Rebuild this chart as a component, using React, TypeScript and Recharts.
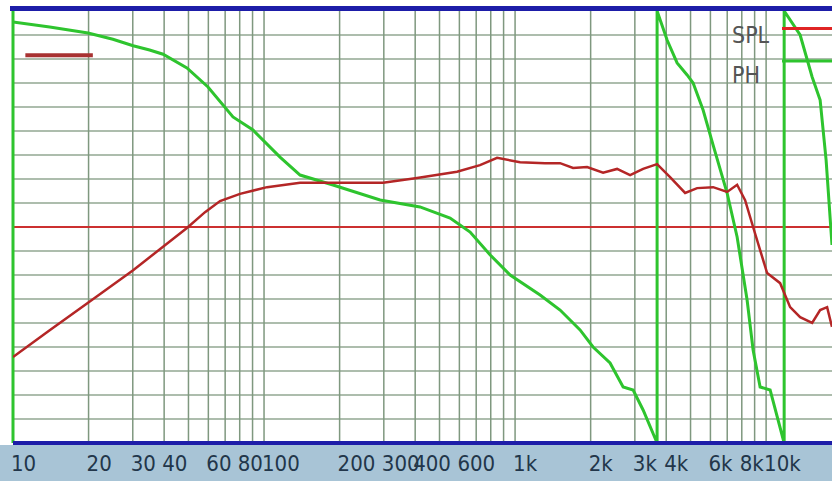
import React from "react";
import { ComposedChart, Line, XAxis, YAxis, ReferenceLine, Legend } from "recharts";

// SPL curve, relative dB (5 dB per grid division, 0 dB = red centre line)
const splFreq = [10, 14, 19.9, 30.1, 40.3, 49.3, 58.2, 66.8, 80.2, 102.8, 139.2, 188.3, 298, 407, 587, 725, 848, 1047, 1317, 1511, 1702, 1936, 2242, 2549, 2872, 3236, 3679, 4144, 4757, 5311, 6151, 6992, 7665, 8248, 8875, 9465, 10092, 11372, 12464, 13662, 15253, 16414, 17500, 18300];
const splDb = [-27.1, -21.5, -15.8, -9.0, -3.8, -0.2, 3.1, 5.4, 6.9, 8.3, 9.2, 9.2, 9.2, 10.2, 11.5, 12.9, 14.4, 13.5, 13.3, 13.3, 12.3, 12.5, 11.3, 12.1, 10.8, 12.1, 13.1, 10.4, 7.1, 8.1, 8.3, 7.3, 8.8, 5.6, 0, -4.8, -9.6, -11.7, -16.7, -18.8, -20, -17.3, -16.7, -20.8];

// phase in degrees, wrapped at +-180
const phFreq = [10, 14, 19.9, 25, 30.1, 35, 39.6, 49.3, 59.8, 75.2, 90.4, 115.8, 139.2, 188.3, 290, 418, 551, 662, 796, 956, 1258, 1511, 1815, 2045, 2390, 2694, 2953, 3236, 3679, 3679, 4033, 4420, 4845, 5120, 5610, 6151, 6992, 7665, 8400, 8875, 9465, 10374, 11800, 11800, 13662, 15253, 16414, 17338, 18300];
const phDeg = [170.8, 166.7, 161.7, 156.5, 151, 147.5, 144, 132.5, 116.7, 91.7, 80.8, 58.3, 43.3, 35, 22.5, 16.7, 7.5, -4.2, -23.3, -40, -56.7, -69.2, -85.8, -100, -113.3, -133.3, -135.8, -152.5, -180, 180, 155.8, 136.7, 126.7, 120, 97.5, 68.3, 28.3, -8.3, -60.8, -102.5, -133.3, -135.8, -180, 180, 160, 125, 105.8, 55.8, -15];

const tickFreqs = [10, 20, 30, 40, 60, 80, 100, 200, 300, 400, 600, 1000, 2000, 3000, 4000, 6000, 8000, 10000];
const tickLabels = ["10", "20", "30", "40", "60", "80", "100", "200", "300", "400", "600", "1k", "2k", "3k", "4k", "6k", "8k", "10k"];

const gridFreqs: number[] = [];
[10, 100, 1000].forEach((d) => {
  for (let m = 1; m <= 9; m++) if (d * m > 10) gridFreqs.push(d * m);
});
gridFreqs.push(10000);

const phGrid = [-160, -140, -120, -100, -80, -60, -40, -20, 0, 20, 40, 60, 80, 100, 120, 140, 160];

const legendItems = [
  { name: "SPL", color: "#e02424", y: 28.5, textY: 43 },
  { name: "PH", color: "#2ec42e", y: 61, textY: 83 },
];

const splData = splFreq.map((f, i) => ({ f, v: splDb[i] }));
const phData = phFreq.map((f, i) => ({ f, v: phDeg[i] }));

const FONT = "'Liberation Sans Narrow', 'DejaVu Sans Condensed', 'Arial Narrow', sans-serif";

const FreqTick = (props: any) => {
  const { x, y, payload } = props;
  const label = tickLabels[tickFreqs.indexOf(payload.value)];
  return (
    <text x={x - 2} y={y + 26} textAnchor="start" fontFamily={FONT} fontSize={22} fill="#22364a">
      {label}
    </text>
  );
};

const LegendBox = () => (
  <svg width={132} height={100}>
    {legendItems.map((it) => (
      <g key={it.name}>
        <text x={32} y={it.textY} fontFamily={FONT} fontSize={23} fill="#555">
          {it.name}
        </text>
        <line x1={82} x2={132} y1={it.y} y2={it.y} stroke={it.color} strokeWidth={3} />
      </g>
    ))}
  </svg>
);

export default function App() {
  return (
    <div style={{ position: "absolute", left: 0, top: 0, width: 832, height: 481, background: "#fff", overflow: "hidden" }}>
      <div style={{ position: "absolute", left: 0, top: 445, width: 832, height: 36, background: "#a8c4d6" }} />
      <ComposedChart
        width={832}
        height={481}
        margin={{ top: 11, right: 0, bottom: 0, left: 13 }}
        style={{ position: "absolute", left: 0, top: 0 }}
      >
        <XAxis
          dataKey="f"
          type="number"
          scale="log"
          domain={[10, 18300]}
          allowDataOverflow
          ticks={tickFreqs}
          interval={0}
          height={38}
          tickLine={false}
          tickSize={0}
          axisLine={{ stroke: "#1d1da8", strokeWidth: 4 }}
          tick={<FreqTick />}
        />
        <YAxis yAxisId="ph" hide type="number" domain={[-180, 180]} />
        <YAxis yAxisId="spl" hide type="number" domain={[-45, 45]} />

        {phGrid.map((v) => (
          <ReferenceLine key={"h" + v} yAxisId="ph" y={v} stroke="#adbdad" strokeWidth={2} />
        ))}
        {gridFreqs.map((f) => (
          <ReferenceLine key={"v" + f} yAxisId="ph" x={f} stroke="#7f987f" strokeWidth={1.5} />
        ))}
        <ReferenceLine yAxisId="spl" y={0} stroke="#cc3030" strokeWidth={2} />
        <ReferenceLine
          yAxisId="spl"
          segment={[{ x: 11.2, y: 35.8 }, { x: 20.8, y: 35.8 }]}
          stroke="#a83232"
          strokeWidth={4}
        />
        <ReferenceLine yAxisId="ph" x={10} stroke="#2ec42e" strokeWidth={3} />

        <Line
          yAxisId="ph"
          data={phData}
          dataKey="v"
          name="PH"
          type="linear"
          stroke="#2ec42e"
          strokeWidth={3}
          dot={false}
          isAnimationActive={false}
        />
        <Line
          yAxisId="spl"
          data={splData}
          dataKey="v"
          name="SPL"
          type="linear"
          stroke="#b42626"
          strokeWidth={2.5}
          dot={false}
          isAnimationActive={false}
        />
        <Legend
          layout="horizontal"
          verticalAlign="middle"
          align="center"
          content={<LegendBox />}
          wrapperStyle={{ position: "absolute", left: 700, top: 0, width: 132, height: 100 }}
        />
      </ComposedChart>
      <div style={{ position: "absolute", left: 10, top: 6, width: 822, height: 5, background: "#1d1da8" }} />
    </div>
  );
}
